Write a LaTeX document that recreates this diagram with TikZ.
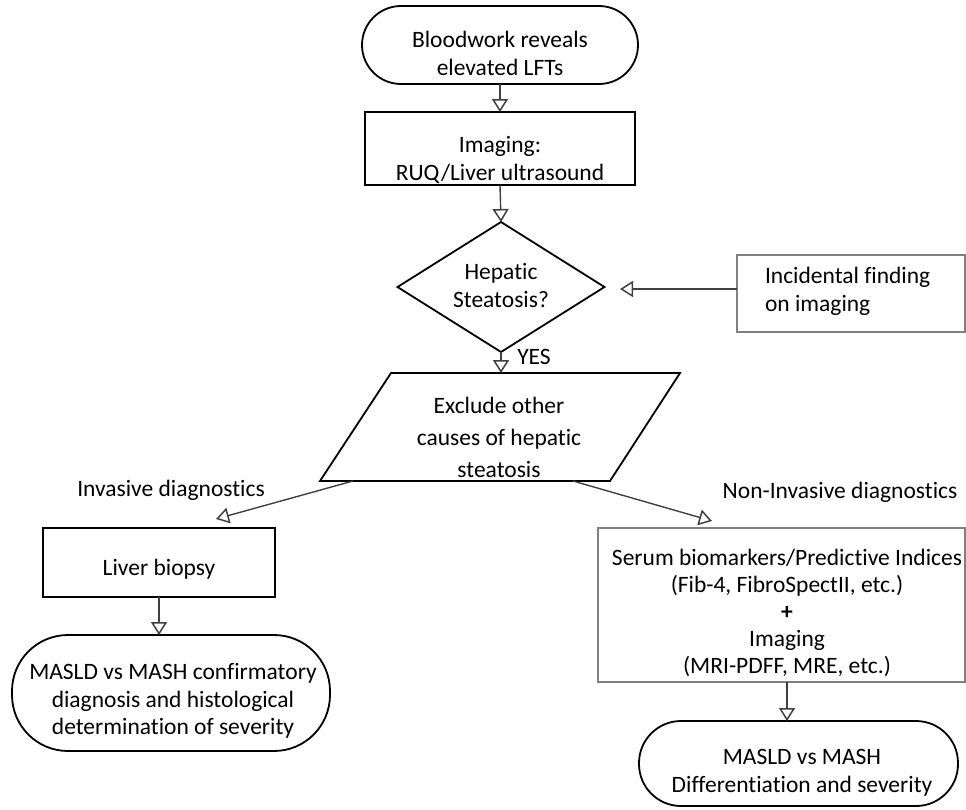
\documentclass[tikz,border=0pt]{standalone}
\usepackage{fontspec}
\setmainfont{Carlito}[Ligatures=NoCommon]
\usetikzlibrary{arrows.meta,shapes.geometric}
\begin{document}
\begin{tikzpicture}[x=1pt,y=-1pt,
  every node/.style={font=\fontsize{23.5}{28}\selectfont, inner sep=0pt, outer sep=0pt},
  blackshape/.style={draw=black, line width=1.8pt},
  grayshape/.style={draw=black!50, line width=1.6pt},
  conn/.style={draw=black!75, line width=1.4pt, -{Triangle[open,length=13pt,width=16pt,line width=1.5pt]}},
  txt/.style={align=center}
]
\useasboundingbox (0,0) rectangle (966,809);

% start terminal
\node[blackshape, rounded corners=39pt, minimum width=276pt, minimum height=78pt] (start) at (500,45) {};
\node[txt] (startT) at (500,53) {Bloodwork reveals\\elevated LFTs};

% imaging box
\node[blackshape, minimum width=270pt, minimum height=73pt] (img) at (500,148.5) {};
\node[txt] (imgT) at (500,160) {Imaging:\\RUQ/Liver ultrasound};

% decision
\node[blackshape, diamond, minimum width=207pt, minimum height=130pt] (diam) at (501,287) {};
\node[txt] (diamT) at (501,285) {Hepatic\\Steatosis?};

% incidental
\node[grayshape, minimum width=228pt, minimum height=77pt] (inc) at (851,293.5) {};
\node[align=left, anchor=west] (incT) at (765,291) {Incidental finding\\on imaging};
\coordinate (incTip) at (620,289);

% parallelogram
\coordinate (pTL) at (391,373);
\coordinate (pTR) at (680,373);
\coordinate (pBR) at (610,481);
\coordinate (pBL) at (320,481);
\draw[blackshape, line join=miter] (pTL) -- (pTR) -- (pBR) -- (pBL) -- cycle;
\node[txt, font=\fontsize{23.5}{32}\selectfont] (exT) at (499,437) {Exclude other\\causes of hepatic\\steatosis};
\coordinate (pTop) at (501,373);
\coordinate (pL) at (353,481);
\coordinate (pR) at (573,481);
\node (yes) at (534,357) {YES};

% labels
\node (invL) at (171,490) {Invasive diagnostics};
\node (ninvL) at (840,492) {Non-Invasive diagnostics};

% liver biopsy
\node[blackshape, minimum width=232pt, minimum height=69pt] (liver) at (159,562.5) {};
\node (liverT) at (159,569) {Liver biopsy};
\coordinate (liverTip) at (216,519);

% left terminal
\node[blackshape, rounded corners=56pt, minimum width=318pt, minimum height=116pt] (mL) at (171,693) {};
\node[txt, font=\fontsize{23.5}{27.5}\selectfont] (mLT) at (173,701) {MASLD vs MASH confirmatory\\diagnosis and histological\\determination of severity};

% serum box
\node[grayshape, minimum width=367pt, minimum height=154pt] (serum) at (781.5,605) {};
\node[txt, font=\fontsize{23.5}{27}\selectfont] (serumT) at (787,613) {Serum biomarkers/Predictive Indices\\(Fib-4, FibroSpectII, etc.)\\\textbf{+}\\Imaging\\(MRI-PDFF, MRE, etc.)};
\coordinate (serTip) at (712,521);

% right terminal
\node[blackshape, rounded corners=42pt, minimum width=319pt, minimum height=85pt] (mR) at (798.5,763.5) {};
\node[txt] (mRT) at (802,773) {MASLD vs MASH\\Differentiation and severity};

% connectors
\draw[conn] (start.south) -- (img.north);
\draw[conn] (img.south) -- (diam.north);
\draw[conn] (inc.west |- incTip) -- (incTip);
\draw[conn] (diam.south) -- (pTop);
\draw[conn] (pL) -- (liverTip);
\draw[conn] (pR) -- (serTip);
\draw[conn] (liver.south) -- (liver.south |- mL.north);
\draw[conn] ([xshift=5.5pt]serum.south) -- ([xshift=5.5pt]serum.south |- mR.north);
\end{tikzpicture}
\end{document}
